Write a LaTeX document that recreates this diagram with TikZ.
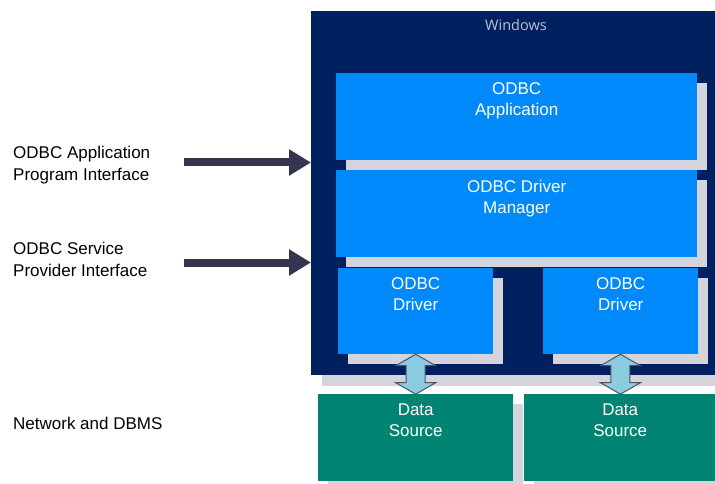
\documentclass[tikz,border=0pt]{standalone}
\usepackage{fontspec}
\setmainfont{Liberation Sans}
\newfontfamily\winfont{Open Sans}
\usetikzlibrary{calc}
\usetikzlibrary{shapes.arrows}
\usetikzlibrary{shadows}
\usetikzlibrary{arrows.meta}
\usetikzlibrary{positioning}
\definecolor{winnavy}{RGB}{0,32,96}
\definecolor{odbcblue}{RGB}{0,137,250}
\definecolor{dsteal}{RGB}{0,131,115}
\definecolor{shadowgray}{RGB}{212,212,220}
\definecolor{arrowdark}{RGB}{53,53,80}
\definecolor{linkblue}{RGB}{140,204,224}
\definecolor{linkgray}{RGB}{80,80,100}
\definecolor{wintext}{RGB}{190,195,214}
\tikzset{
  winbox/.style={rectangle, fill=winnavy, anchor=north west, inner sep=0,
    drop shadow={shadow xshift=11pt, shadow yshift=-11pt, fill=shadowgray, opacity=1}},
  odbcbox/.style={rectangle, fill=odbcblue, anchor=north west, inner sep=0,
    drop shadow={shadow xshift=10pt, shadow yshift=-10pt, fill=shadowgray, opacity=1}},
  sourcebox/.style={rectangle, fill=dsteal, anchor=north west, inner sep=0,
    drop shadow={shadow xshift=10pt, shadow yshift=-10pt, fill=shadowgray, opacity=1}},
  boxtext/.style={text=white, align=center, anchor=north, inner sep=0, font=\fontsize{17}{21}\selectfont},
  sidelabel/.style={anchor=north west, align=left, inner sep=0, font=\fontsize{17}{22}\selectfont},
  apiarrow/.style={draw=arrowdark, line width=8pt, -{Triangle[width=25pt,length=22pt]}},
  linkarrow/.style={double arrow, draw=linkgray, fill=linkblue, line width=1pt, rotate=90,
    inner sep=9pt, double arrow head extend=10.5pt, double arrow tip angle=120, minimum height=40pt}
  }

\begin{document}
\begin{tikzpicture}[x=1pt, y=-1pt]
	\useasboundingbox (0,0) rectangle (715,484);

	% Frame
	\node[winbox, minimum width=405pt, minimum height=364pt] (win) at (311,11) {};
	\node[text=wintext, font=\winfont\fontsize{14.5}{17}\selectfont] (wintitle) at (516,25) {Windows};

	% Nodes
	\node[sourcebox, minimum width=195pt, minimum height=87pt] (ds1) at (318,394) {};
	\node[sourcebox, minimum width=192pt, minimum height=87pt] (ds2) at (524,394) {};
	\node[odbcbox, minimum width=361pt, minimum height=87pt] (app) at (336,73) {};
	\node[odbcbox, minimum width=361pt, minimum height=87pt] (mgr) at (336,170) {};
	\node[odbcbox, minimum width=155pt, minimum height=86pt] (drv1) at (338,268) {};
	\node[odbcbox, minimum width=155pt, minimum height=86pt] (drv2) at (543,268) {};

	\node[boxtext, below=9pt of app.north] (apptext) {ODBC\\Application};
	\node[boxtext, below=10pt of mgr.north] (mgrtext) {ODBC Driver\\Manager};
	\node[boxtext, below=9pt of drv1.north] (drv1text) {ODBC\\Driver};
	\node[boxtext, below=9pt of drv2.north] (drv2text) {ODBC\\Driver};
	\node[boxtext, below=9.5pt of ds1.north] (ds1text) {Data\\Source};
	\node[boxtext, below=9.5pt of ds2.north] (ds2text) {Data\\Source};

	\node[sidelabel] (api) at (13,146) {ODBC Application\\Program Interface};
	\node[sidelabel] (spi) at (13,242) {ODBC Service\\Provider Interface};
	\node[sidelabel] (net) at (13,417) {Network and DBMS};

	% Arrow
	\coordinate (apitail) at (184,162.5);
	\coordinate (spitail) at (184,262.5);
	\draw[apiarrow] (apitail) -- (apitail -| win.west);
	\draw[apiarrow] (spitail) -- (spitail -| win.west);
	\node[linkarrow] (link1) at ($(drv1.south)!0.5!(ds1.north)$) {};
	\node[linkarrow] (link2) at ($(drv2.south)!0.5!(ds2.north)$) {};
\end{tikzpicture}
\end{document}
